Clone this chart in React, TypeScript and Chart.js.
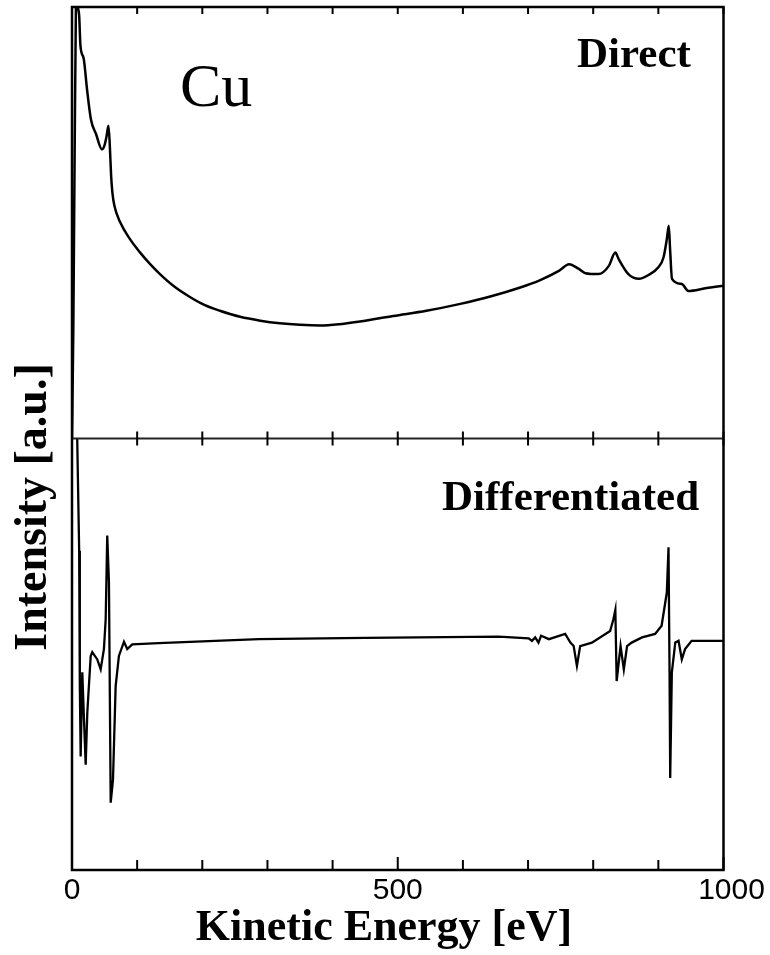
import React, { useEffect, useRef } from 'react';
import { Chart, registerables } from 'chart.js';

Chart.register(...registerables);

// Direct spectrum (kinetic energy in eV, intensity in a.u.)
const directEnergy = [0, 2, 4, 6, 7, 9, 11, 13, 18, 23, 29, 37, 46, 50, 53, 56, 58, 60, 62, 65, 74, 89, 104, 120, 135, 158, 181, 204, 227, 258, 289, 319, 350, 381, 411, 442, 493, 544, 596, 642, 688, 717, 748, 763, 778, 788, 808, 824, 834, 839, 854, 870, 885, 900, 908, 913, 916, 918, 921, 936, 946, 972, 1000];
const directIntensity = [0, 25, 65, 100, 104, 100, 98, 91, 88, 81, 74, 70.5, 67, 68, 70, 72.5, 68, 61, 57, 54, 50.1, 46.2, 43.2, 40.4, 38.1, 35.1, 32.8, 30.9, 29.6, 28.2, 27.3, 26.7, 26.35, 26.2, 26.5, 27.1, 28.4, 29.6, 31.2, 32.9, 35.0, 36.6, 38.9, 40.4, 39.3, 38.3, 38.1, 40.0, 43.1, 41.6, 38.1, 37.0, 37.9, 39.7, 42.0, 46.2, 49.3, 43.9, 37.0, 35.8, 34.2, 34.8, 35.4];

// Differentiated spectrum
const diffEnergy = [8, 11, 12, 13.3, 15.8, 18.4, 21, 23.5, 28.7, 31.1, 38.8, 44, 49, 51.7, 54.1, 56.7, 59.4, 62.9, 67, 72, 79.8, 84.8, 92.5, 133, 287, 450, 655, 701, 706, 711, 716, 720, 732, 757, 765, 770, 775, 780, 798, 826, 831, 834, 836, 842, 847, 852, 859, 875, 895, 905, 913, 915.6, 917.2, 918.2, 920.7, 926, 931, 936, 941, 951, 972, 1000];
const diffIntensity = [100, 74, 43, 26.3, 45.8, 34.9, 24.4, 36.5, 49.6, 50.5, 48.8, 46.5, 51.2, 58.1, 77.5, 66.7, 15.6, 20.9, 42.6, 49.6, 52.9, 51.2, 52.3, 52.6, 53.5, 53.8, 54.1, 53.7, 53.1, 53.9, 52.7, 54.3, 53.5, 54.7, 52.7, 51.9, 47.3, 51.9, 52.7, 55.4, 58.1, 60.3, 43.8, 51.9, 46.5, 51.9, 52.7, 53.9, 54.7, 56.6, 64.3, 74.8, 45.8, 21.3, 45.8, 52.7, 53.1, 48.8, 51.2, 53.1, 53.1, 53.1];

const xTickValues = [0, 100, 200, 300, 400, 500, 600, 700, 800, 900, 1000];
const xLabelValues = [0, 500, 1000];
const xLabelTexts = ['0', '500', '1000'];
const elementLabel = 'Cu';
const topPanelLabel = 'Direct';
const bottomPanelLabel = 'Differentiated';
const xTitle = 'Kinetic Energy [eV]';
const yTitle = 'Intensity [a.u.]';

export default function App() {
  const ref = useRef<HTMLCanvasElement>(null);

  useEffect(() => {
    if (!ref.current) return;
    const framePlugin = {
      id: 'framePlugin',
      afterDraw(chart: any) {
        const ctx = chart.ctx as CanvasRenderingContext2D;
        const { left, right, top, bottom } = chart.chartArea;
        const xs = chart.scales.x;
        const mid = Math.min(chart.scales.yTop.bottom, chart.scales.yBottom.bottom);
        ctx.save();
        ctx.strokeStyle = '#000';
        ctx.lineWidth = 2.5;
        ctx.strokeRect(left, top, right - left, bottom - top);
        ctx.lineWidth = 2;
        ctx.strokeStyle = '#222';
        ctx.beginPath();
        ctx.moveTo(left, mid);
        ctx.lineTo(right, mid);
        ctx.stroke();
        ctx.strokeStyle = '#000';
        ctx.lineWidth = 2;
        ctx.beginPath();
        for (const v of xTickValues) {
          const px = xs.getPixelForValue(v);
          const major = v % 500 === 0;
          ctx.moveTo(px, bottom);
          ctx.lineTo(px, bottom - (major ? 13 : 10));
          ctx.moveTo(px, mid - 7);
          ctx.lineTo(px, mid + 7);
          ctx.moveTo(px, top);
          ctx.lineTo(px, top + 7);
        }
        ctx.stroke();

        ctx.fillStyle = '#000';
        ctx.font = '30px "Liberation Sans", Arial, sans-serif';
        ctx.textAlign = 'center';
        ctx.textBaseline = 'middle';
        xLabelValues.forEach((v, i) => {
          const shift = i === xLabelValues.length - 1 ? 8 : 0;
          ctx.fillText(xLabelTexts[i], xs.getPixelForValue(v) + shift, bottom + 21);
        });

        ctx.textBaseline = 'alphabetic';
        ctx.font = 'bold 44px "Liberation Serif", "Times New Roman", serif';
        ctx.textAlign = 'center';
        ctx.fillText(xTitle, 384, 940);

        ctx.textAlign = 'left';
        ctx.font = 'bold 43px "Liberation Serif", "Times New Roman", serif';
        ctx.fillText(topPanelLabel, 577, 67);
        ctx.fillText(bottomPanelLabel, 442, 510);

        ctx.font = '62px "Liberation Serif", "Times New Roman", serif';
        ctx.fillText(elementLabel, 180, 106);

        ctx.save();
        ctx.translate(46, 507);
        ctx.rotate(-Math.PI / 2);
        ctx.textAlign = 'center';
        ctx.font = 'bold 46px "Liberation Serif", "Times New Roman", serif';
        ctx.fillText(yTitle, 0, 0);
        ctx.restore();
        ctx.restore();
      },
    };

    const chart = new Chart(ref.current, {
      type: 'line',
      data: {
        datasets: [
          {
            data: directEnergy.map((x, i) => ({ x, y: directIntensity[i] })),
            yAxisID: 'yTop',
            borderColor: '#000',
            borderWidth: 2.5,
            pointRadius: 0,
            cubicInterpolationMode: 'monotone',
          },
          {
            data: diffEnergy.map((x, i) => ({ x, y: diffIntensity[i] })),
            yAxisID: 'yBottom',
            borderColor: '#000',
            borderWidth: 2.3,
            pointRadius: 0,
            tension: 0,
          },
        ],
      },
      options: {
        responsive: false,
        animation: false,
        events: [],
        layout: { padding: { left: 72, right: 46.5, top: 7, bottom: 85 } },
        plugins: { legend: { display: false }, tooltip: { enabled: false } },
        scales: {
          x: { type: 'linear', min: 0, max: 1000, display: false },
          yBottom: { type: 'linear', min: 0, max: 100, display: false, stack: 'panels', stackWeight: 1, position: 'left' },
          yTop: { type: 'linear', min: 0, max: 100, display: false, stack: 'panels', stackWeight: 1, position: 'left' },
        },
      } as any,
      plugins: [framePlugin],
    });
    return () => chart.destroy();
  }, []);

  return (
    <div style={{ position: 'absolute', left: 0, top: 0, width: 770, height: 955, background: '#fff' }}>
      <canvas ref={ref} width={770} height={955} style={{ display: 'block' }} />
    </div>
  );
}
